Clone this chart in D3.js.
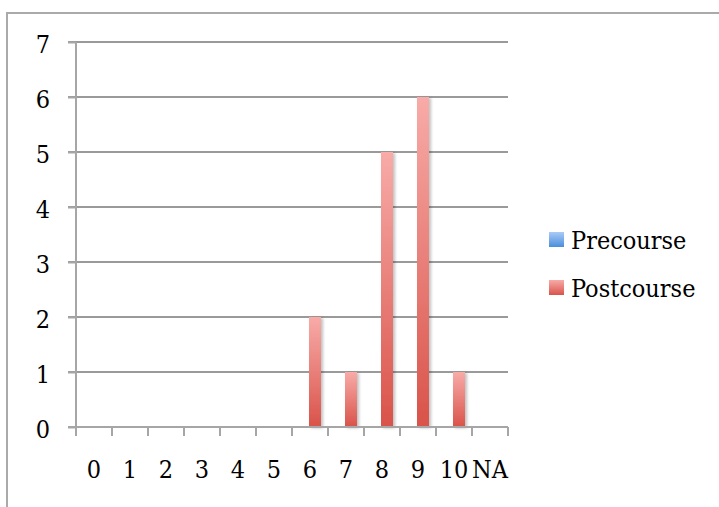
<!DOCTYPE html>
<html><head><meta charset="utf-8">
<script src="https://cdn.jsdelivr.net/npm/d3@7/dist/d3.min.js"></script>
<style>html,body{margin:0;padding:0;background:#fff;overflow:hidden}</style>
</head><body>
<svg id="c" width="719" height="507"></svg>
<script>
const categories = ["0","1","2","3","4","5","6","7","8","9","10","NA"];
const seriesNames = ["Precourse","Postcourse"];
const precourse = [0,0,0,0,0,0,0,0,0,0,0,0];
const postcourse = [0,0,0,0,0,0,2,1,5,6,1,0];
const yTicks = [0,1,2,3,4,5,6,7];

const svg = d3.select("#c");
const font = "'DejaVu Serif Condensed', 'DejaVu Serif', serif";
const fs = 25;
const defs = svg.append("defs");
function grad(id, top, bottom){
  const g = defs.append("linearGradient").attr("id", id).attr("x1",0).attr("y1",0).attr("x2",0).attr("y2",1);
  g.append("stop").attr("offset","0%").attr("stop-color",top);
  g.append("stop").attr("offset","100%").attr("stop-color",bottom);
}
grad("gPre","#a9cbf6","#4a8edb");
grad("gPost","#f8aba8","#d9534a");
const f = defs.append("filter").attr("id","sh").attr("x","-50%").attr("y","-10%").attr("width","200%").attr("height","120%");
f.append("feDropShadow").attr("dx",2).attr("dy",1).attr("stdDeviation",1.5).attr("flood-color","#000").attr("flood-opacity",0.25);

// outer frame
svg.append("rect").attr("x",7).attr("y",13).attr("width",730).attr("height",520)
  .attr("fill","none").attr("stroke","#aaaaaa").attr("stroke-width",2);

const x = d3.scaleBand().domain(categories).range([76,508]).padding(0);
const xi = d3.scaleBand().domain(seriesNames).range([-13,11]).padding(0);
const y = d3.scaleLinear().domain([0,7]).range([427,42]);

// gridlines
svg.append("g").selectAll("line").data(yTicks.filter(d=>d>0)).join("line")
  .attr("x1",68).attr("x2",508).attr("y1",d=>y(d)).attr("y2",d=>y(d))
  .attr("stroke","#9a9a9a").attr("stroke-width",2);

// bars
const data = [precourse, postcourse];
const grads = ["url(#gPre)","url(#gPost)"];
data.forEach((vals,si)=>{
  svg.append("g").selectAll("rect")
    .data(vals.map((v,i)=>({c:categories[i],v})).filter(d=>d.v>0))
    .join("rect")
    .attr("x",d=>x(d.c)+x.bandwidth()/2+xi(seriesNames[si]))
    .attr("width",xi.bandwidth())
    .attr("y",d=>y(d.v))
    .attr("height",d=>y(0)-y(d.v))
    .attr("fill",grads[si])
    .attr("filter","url(#sh)");
});

// y axis
const ya = d3.axisLeft(y).tickValues(yTicks).tickSize(8).tickPadding(18).tickFormat(d3.format("d"));
const gy = svg.append("g").attr("transform","translate(76,0)").call(ya);
gy.attr("font-family",null).attr("font-size",null);
gy.select(".domain").attr("stroke","#a6a6a6").attr("stroke-width",2).attr("d","M0,42V427");
gy.selectAll(".tick line").attr("stroke","#a6a6a6").attr("stroke-width",2);
gy.selectAll(".tick text").style("font-family",font).style("font-size",fs+"px").attr("fill","#000").attr("dy","0.42em");

// x axis
const xa = d3.axisBottom(x).tickSize(0).tickPadding(0);
const gx = svg.append("g").attr("transform","translate(0,427)").call(xa);
gx.attr("font-family",null).attr("font-size",null);
gx.select(".domain").attr("stroke","#a6a6a6").attr("stroke-width",2).attr("d","M68,0H508");
gx.selectAll(".tick text").style("font-family",font).style("font-size",fs+"px").attr("fill","#000").attr("y",51).attr("dy",0);
svg.append("g").selectAll("line").data(d3.range(categories.length+1)).join("line")
  .attr("x1",i=>76+i*x.bandwidth()).attr("x2",i=>76+i*x.bandwidth())
  .attr("y1",427).attr("y2",436).attr("stroke","#a6a6a6").attr("stroke-width",2);

// legend
const lg = svg.append("g");
seriesNames.forEach((s,i)=>{
  lg.append("rect").attr("x",549).attr("y",232+i*48).attr("width",15).attr("height",15).attr("fill",grads[i]);
  lg.append("text").attr("x",571).attr("y",249+i*48).text(s)
    .style("font-family",font).style("font-size",fs+"px").attr("fill","#000");
});
</script>
</body></html>
